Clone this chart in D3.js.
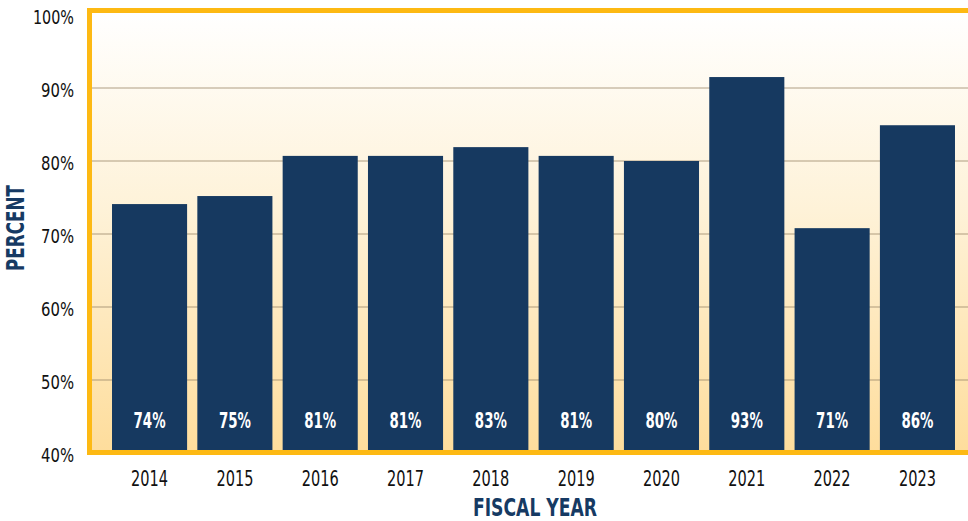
<!DOCTYPE html>
<html>
<head>
<meta charset="utf-8">
<script src="https://cdn.jsdelivr.net/npm/d3@7"></script>
<style>
  body { margin: 0; background: #fff; }
  svg text { font-family: "Liberation Sans Narrow", "DejaVu Sans Condensed", sans-serif; }
</style>
</head>
<body>
<div id="chart"></div>
<script>
// values
const years = ["2014", "2015", "2016", "2017", "2018", "2019", "2020", "2021", "2022", "2023"];
const percents = [74.1, 75.2, 80.7, 80.7, 81.9, 80.7, 80.0, 91.5, 70.8, 84.9];
const barLabels = ["74%", "75%", "81%", "81%", "83%", "81%", "80%", "93%", "71%", "86%"];
const yTicks = [40, 50, 60, 70, 80, 90, 100];

const width = 968, height = 521;
const plotLeft = 90, plotTop = 11, plotBottom = 452, plotRight = 977;

// narrow the glyphs so the labels get the tall, condensed look of the original
function squeeze(txt, digitW, pctW) {
  return txt.replace("%", "").length * digitW + (txt.indexOf("%") >= 0 ? pctW : 0);
}

const svg = d3.select("#chart")
    .append("svg")
    .attr("width", width)
    .attr("height", height);

const x = d3.scaleBand()
    .domain(years)
    .range([plotLeft, plotRight])
    .paddingInner(0.12)
    .paddingOuter(0.258);

const y = d3.scaleLinear()
    .domain([40, 100])
    .range([453, 15]);

// background gradient
const grad = svg.append("defs")
    .append("linearGradient")
    .attr("id", "bg")
    .attr("x1", 0).attr("y1", 0).attr("x2", 0).attr("y2", 1);
grad.append("stop").attr("offset", "0%").attr("stop-color", "#ffffff");
grad.append("stop").attr("offset", "45%").attr("stop-color", "#fef2d8");
grad.append("stop").attr("offset", "100%").attr("stop-color", "#fedd9c");

svg.append("rect")
    .attr("x", plotLeft)
    .attr("y", plotTop)
    .attr("width", plotRight - plotLeft)
    .attr("height", plotBottom - plotTop)
    .attr("fill", "url(#bg)");

// gridlines
svg.append("g")
    .selectAll("line")
    .data(yTicks.filter((d) => d > 40 && d < 100))
    .enter()
    .append("line")
    .attr("x1", plotLeft)
    .attr("x2", width)
    .attr("y1", (d) => y(d))
    .attr("y2", (d) => y(d))
    .attr("stroke", "#9a8668")
    .attr("stroke-opacity", 0.4)
    .attr("stroke-width", 2);

// bars
svg.append("g")
    .selectAll("rect")
    .data(percents)
    .enter()
    .append("rect")
    .attr("x", (d, i) => x(years[i]))
    .attr("y", (d) => y(d))
    .attr("width", x.bandwidth())
    .attr("height", (d) => plotBottom - y(d))
    .attr("fill", "#163960");

// value labels near bar bottoms
svg.append("g")
    .selectAll("text")
    .data(barLabels)
    .enter()
    .append("text")
    .attr("x", (d, i) => x(years[i]) + x.bandwidth() / 2)
    .attr("y", 428)
    .attr("text-anchor", "middle")
    .attr("fill", "#fff")
    .attr("font-weight", "bold")
    .attr("font-size", 22)
    .attr("textLength", (d) => squeeze(d, 8, 16))
    .attr("lengthAdjust", "spacingAndGlyphs")
    .text((d) => d);

// frame
svg.append("rect")
    .attr("x", plotLeft - 0.5)
    .attr("y", plotTop - 0.5)
    .attr("width", plotRight - plotLeft)
    .attr("height", plotBottom - plotTop + 1)
    .attr("fill", "none")
    .attr("stroke", "#fdb913")
    .attr("stroke-width", 5);

// y axis labels
const yAxis = svg.append("g")
    .attr("transform", "translate(" + 84 + ",0)")
    .call(d3.axisLeft(y).tickValues(yTicks).tickFormat((d) => d + "%").tickSize(0).tickPadding(10));
yAxis.select(".domain").remove();
yAxis.selectAll("text")
    .attr("font-size", 20)
    .attr("fill", "#111")
    .attr("dy", "0.4em")
    .attr("textLength", function() { return squeeze(this.textContent, 8, 17); })
    .attr("lengthAdjust", "spacingAndGlyphs");

// x axis labels
const xAxis = svg.append("g")
    .attr("transform", "translate(0," + 469 + ")")
    .call(d3.axisBottom(x).tickSize(0).tickPadding(0));
xAxis.select(".domain").remove();
xAxis.selectAll("text")
    .attr("font-size", 22)
    .attr("fill", "#111")
    .attr("dy", "0.75em")
    .attr("textLength", 37)
    .attr("lengthAdjust", "spacingAndGlyphs");

// axis titles
svg.append("text")
    .attr("x", 535)
    .attr("y", 516)
    .attr("text-anchor", "middle")
    .attr("fill", "#163a63")
    .attr("font-weight", "bold")
    .attr("font-size", 24)
    .attr("textLength", 124)
    .attr("lengthAdjust", "spacingAndGlyphs")
    .text("FISCAL YEAR");

svg.append("text")
    .attr("transform", "translate(24,228) rotate(-90)")
    .attr("text-anchor", "middle")
    .attr("fill", "#163a63")
    .attr("font-weight", "bold")
    .attr("font-size", 24)
    .attr("textLength", 86)
    .attr("lengthAdjust", "spacingAndGlyphs")
    .text("PERCENT");
</script>
</body>
</html>
